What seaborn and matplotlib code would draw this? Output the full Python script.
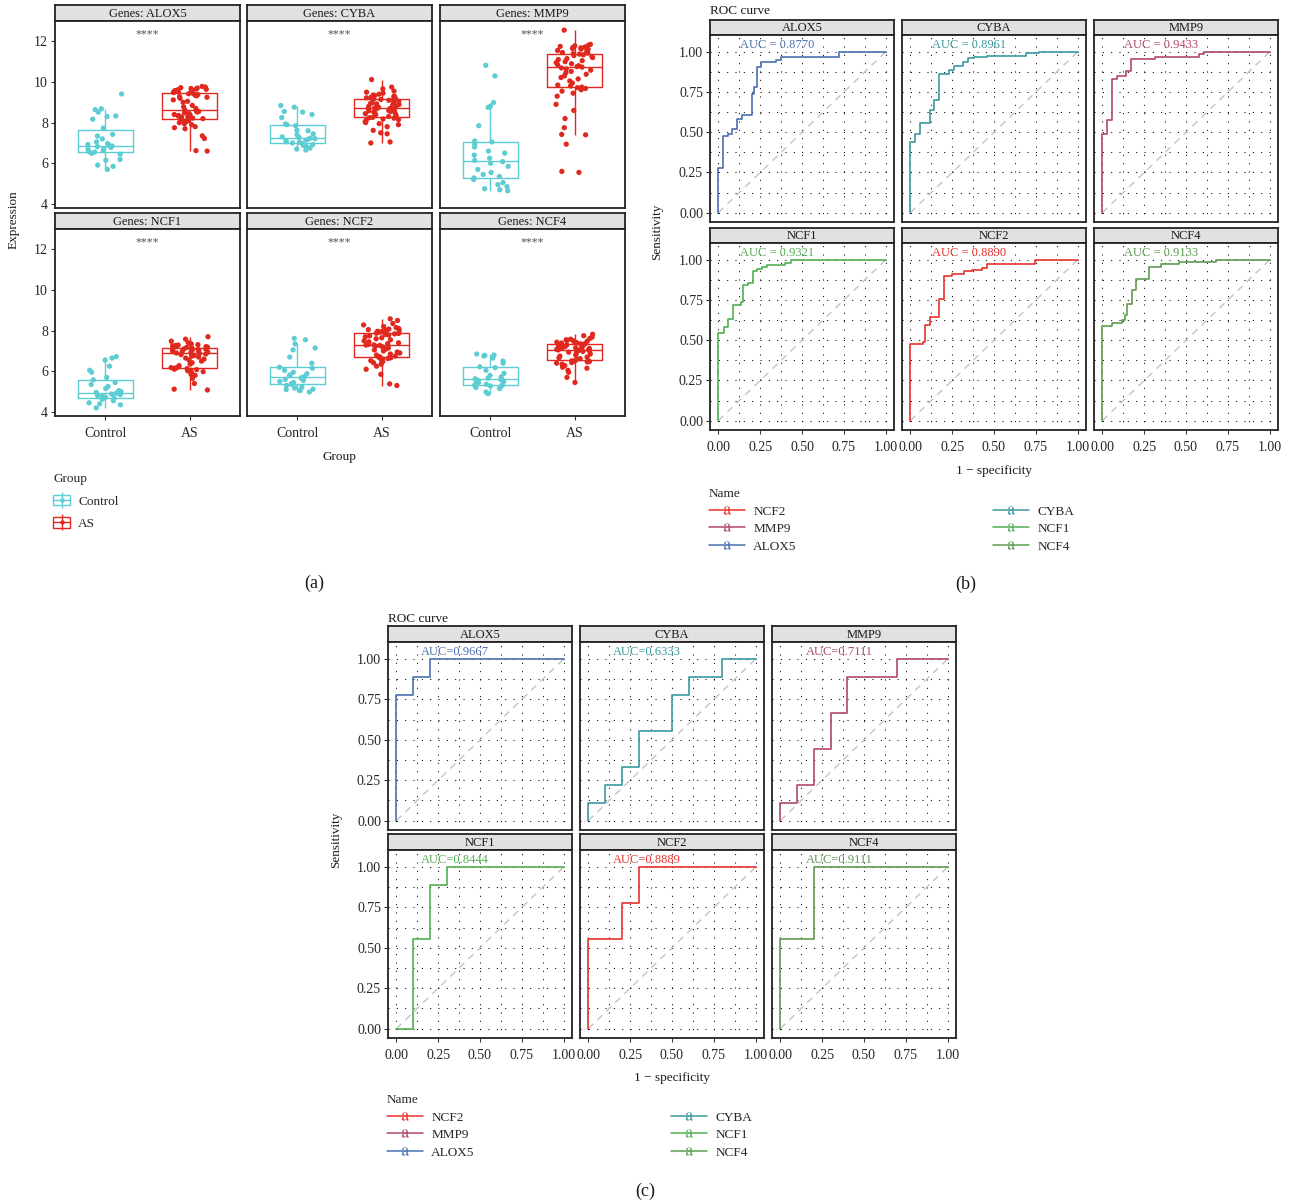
import numpy as np
import pandas as pd
import matplotlib
matplotlib.use("Agg")
import matplotlib.pyplot as plt
import seaborn as sns
from matplotlib.lines import Line2D
from matplotlib.patches import Patch
from matplotlib.legend_handler import HandlerTuple

# ------------------------------------------------------------------ data
genes = ["ALOX5", "CYBA", "MMP9", "NCF1", "NCF2", "NCF4"]
groups = ["Control", "AS"]

alox5_control = [5.70, 5.85, 5.91, 6.15, 6.19, 6.45, 6.49, 6.55, 6.58, 6.62, 6.68, 6.72, 6.78, 6.82, 6.85,
                 6.88, 6.92, 6.97, 7.05, 7.20, 7.34, 7.42, 7.73, 8.17, 8.30, 8.33, 8.52, 8.64, 8.68, 9.41]
alox5_as = [6.60, 6.62, 7.22, 7.35, 7.70, 7.75, 7.80, 7.90, 7.95, 8.00, 8.05, 8.10, 8.13, 8.15, 8.18,
            8.20, 8.22, 8.25, 8.28, 8.30, 8.32, 8.35, 8.38, 8.40, 8.45, 8.48, 8.52, 8.55, 8.57, 8.59,
            8.62, 8.70, 8.78, 8.85, 9.00, 9.05, 9.12, 9.20, 9.25, 9.28, 9.32, 9.35, 9.38, 9.42, 9.44,
            9.48, 9.50, 9.52, 9.55, 9.57, 9.58, 9.60, 9.62, 9.64, 9.65, 9.68, 9.70, 9.72, 9.75, 9.78]
cyba_control = [6.65, 6.70, 6.75, 6.82, 6.88, 6.92, 6.97, 7.00, 7.03, 7.06, 7.10, 7.14, 7.18, 7.21, 7.24,
                7.27, 7.30, 7.40, 7.45, 7.60, 7.62, 7.85, 7.90, 7.93, 8.25, 8.40, 8.52, 8.55, 8.76, 8.84]
cyba_as = [7.00, 7.05, 7.45, 7.50, 7.62, 7.80, 7.90, 7.95, 8.00, 8.05, 8.10, 8.15, 8.18, 8.22, 8.24,
           8.26, 8.30, 8.35, 8.40, 8.44, 8.48, 8.52, 8.55, 8.58, 8.60, 8.63, 8.65, 8.67, 8.69, 8.70,
           8.72, 8.75, 8.78, 8.80, 8.83, 8.86, 8.89, 8.92, 8.95, 8.98, 9.00, 9.05, 9.10, 9.14, 9.16,
           9.18, 9.20, 9.22, 9.25, 9.28, 9.30, 9.33, 9.36, 9.40, 9.45, 9.50, 9.55, 9.66, 9.75, 10.12]
mmp9_control = [4.65, 4.70, 4.75, 4.85, 4.95, 5.05, 5.20, 5.28, 5.35, 5.45, 5.55, 5.70, 5.85, 6.00, 6.08,
                6.14, 6.25, 6.40, 6.50, 6.60, 6.80, 6.95, 7.05, 7.10, 7.85, 8.75, 8.80, 8.99, 10.30, 10.82]
mmp9_as = [5.55, 5.60, 6.94, 7.40, 7.42, 7.75, 8.20, 8.60, 8.90, 9.30, 9.45, 9.55, 9.62, 9.68, 9.72,
           9.75, 9.80, 9.85, 9.95, 10.05, 10.15, 10.22, 10.30, 10.38, 10.45, 10.52, 10.58, 10.64, 10.69, 10.73,
           10.76, 10.80, 10.85, 10.90, 10.95, 11.00, 11.05, 11.10, 11.15, 11.20, 11.25, 11.30, 11.34, 11.37, 11.39,
           11.42, 11.45, 11.50, 11.55, 11.60, 11.62, 11.65, 11.68, 11.70, 11.72, 11.75, 11.78, 11.80, 11.85, 12.55]
ncf1_control = [4.20, 4.35, 4.40, 4.45, 4.55, 4.62, 4.68, 4.70, 4.73, 4.76, 4.80, 4.85, 4.88, 4.92, 4.94,
                4.96, 5.00, 5.05, 5.15, 5.25, 5.35, 5.45, 5.58, 5.70, 5.95, 6.05, 6.25, 6.55, 6.65, 6.72]
ncf1_as = [5.08, 5.12, 5.40, 5.65, 5.80, 5.85, 5.92, 5.98, 6.02, 6.05, 6.08, 6.10, 6.13, 6.15, 6.16,
           6.18, 6.22, 6.28, 6.35, 6.42, 6.50, 6.55, 6.60, 6.65, 6.70, 6.74, 6.78, 6.82, 6.85, 6.88,
           6.90, 6.92, 6.94, 6.96, 6.98, 7.00, 7.02, 7.04, 7.05, 7.07, 7.08, 7.09, 7.10, 7.11, 7.12,
           7.15, 7.17, 7.19, 7.21, 7.23, 7.25, 7.27, 7.29, 7.31, 7.33, 7.36, 7.40, 7.48, 7.58, 7.70]
ncf2_control = [4.98, 5.05, 5.10, 5.12, 5.18, 5.22, 5.30, 5.36, 5.40, 5.45, 5.50, 5.55, 5.60, 5.65, 5.70,
                5.74, 5.78, 5.82, 5.88, 5.95, 6.05, 6.15, 6.20, 6.40, 6.70, 7.05, 7.15, 7.35, 7.55, 7.62]
ncf2_as = [5.30, 5.38, 5.85, 6.10, 6.25, 6.35, 6.42, 6.48, 6.52, 6.56, 6.60, 6.63, 6.66, 6.68, 6.69,
           6.71, 6.75, 6.80, 6.85, 6.90, 6.95, 7.00, 7.05, 7.10, 7.15, 7.20, 7.24, 7.27, 7.29, 7.30,
           7.32, 7.36, 7.40, 7.45, 7.50, 7.55, 7.60, 7.65, 7.70, 7.74, 7.78, 7.81, 7.84, 7.86, 7.87,
           7.90, 7.92, 7.95, 7.97, 8.00, 8.02, 8.05, 8.08, 8.10, 8.15, 8.20, 8.28, 8.35, 8.50, 8.58]
ncf4_control = [4.90, 4.98, 5.15, 5.20, 5.25, 5.28, 5.31, 5.33, 5.36, 5.40, 5.45, 5.50, 5.55, 5.58, 5.61,
                5.63, 5.66, 5.72, 5.80, 5.90, 6.05, 6.18, 6.22, 6.40, 6.50, 6.65, 6.75, 6.78, 6.80, 6.85]
ncf4_as = [5.45, 5.70, 5.95, 6.05, 6.15, 6.20, 6.28, 6.35, 6.40, 6.43, 6.46, 6.48, 6.50, 6.51, 6.52,
           6.54, 6.58, 6.62, 6.66, 6.70, 6.75, 6.80, 6.85, 6.90, 6.94, 6.98, 7.01, 7.03, 7.05, 7.06,
           7.08, 7.10, 7.12, 7.14, 7.16, 7.18, 7.20, 7.22, 7.24, 7.26, 7.28, 7.30, 7.31, 7.32, 7.33,
           7.35, 7.37, 7.39, 7.41, 7.43, 7.45, 7.48, 7.50, 7.52, 7.55, 7.58, 7.62, 7.68, 7.75, 7.82]

# ROC curves, panel (b) (training set): step vertices (1 - specificity, sensitivity)
b_alox5_fpr = [0.0, 0.0, 0.026, 0.026, 0.055, 0.084, 0.113, 0.142, 0.202, 0.215, 0.228, 0.255, 0.347, 0.375, 0.720, 1.0]
b_alox5_tpr = [0.0, 0.275, 0.290, 0.476, 0.490, 0.520, 0.580, 0.607, 0.740, 0.780, 0.907, 0.938, 0.948, 0.969, 1.0, 1.0]
b_cyba_fpr = [0.0, 0.0, 0.030, 0.060, 0.115, 0.143, 0.173, 0.230, 0.260, 0.315, 0.345, 0.380, 0.460, 0.690, 0.770, 1.0]
b_cyba_tpr = [0.0, 0.440, 0.490, 0.560, 0.640, 0.700, 0.860, 0.890, 0.910, 0.940, 0.960, 0.970, 0.975, 0.990, 1.0, 1.0]
b_mmp9_fpr = [0.0, 0.0, 0.030, 0.060, 0.090, 0.144, 0.174, 0.317, 0.577, 0.607, 1.0]
b_mmp9_tpr = [0.0, 0.487, 0.575, 0.834, 0.853, 0.880, 0.955, 0.969, 0.986, 1.0, 1.0]
b_ncf1_fpr = [0.0, 0.0, 0.031, 0.060, 0.090, 0.138, 0.150, 0.177, 0.206, 0.230, 0.259, 0.290, 0.400, 0.436, 1.0]
b_ncf1_tpr = [0.0, 0.548, 0.580, 0.630, 0.720, 0.735, 0.843, 0.855, 0.930, 0.946, 0.957, 0.970, 0.980, 1.0, 1.0]
b_ncf2_fpr = [0.0, 0.0, 0.073, 0.090, 0.120, 0.170, 0.200, 0.248, 0.320, 0.370, 0.430, 0.460, 0.745, 1.0]
b_ncf2_tpr = [0.0, 0.477, 0.490, 0.595, 0.647, 0.754, 0.900, 0.915, 0.930, 0.940, 0.950, 0.977, 1.0, 1.0]
b_ncf4_fpr = [0.0, 0.0, 0.060, 0.117, 0.133, 0.146, 0.177, 0.200, 0.280, 0.350, 0.460, 0.680, 1.0]
b_ncf4_tpr = [0.0, 0.589, 0.605, 0.626, 0.657, 0.725, 0.810, 0.884, 0.957, 0.977, 0.985, 1.0, 1.0]
b_auc = ["AUC = 0.8770", "AUC = 0.8961", "AUC = 0.9433", "AUC = 0.9321", "AUC = 0.8890", "AUC = 0.9133"]

# ROC curves, panel (c) (validation set)
c_alox5_fpr = [0.0, 0.0, 0.1, 0.2, 1.0]
c_alox5_tpr = [0.0, 0.778, 0.889, 1.0, 1.0]
c_cyba_fpr = [0.0, 0.0, 0.1, 0.2, 0.3, 0.5, 0.6, 0.8, 1.0]
c_cyba_tpr = [0.0, 0.111, 0.222, 0.333, 0.556, 0.778, 0.889, 1.0, 1.0]
c_mmp9_fpr = [0.0, 0.0, 0.1, 0.2, 0.3, 0.4, 0.7, 1.0]
c_mmp9_tpr = [0.0, 0.111, 0.222, 0.444, 0.667, 0.889, 1.0, 1.0]
c_ncf1_fpr = [0.0, 0.1, 0.2, 0.3, 1.0]
c_ncf1_tpr = [0.0, 0.556, 0.889, 1.0, 1.0]
c_ncf2_fpr = [0.0, 0.0, 0.2, 0.3, 1.0]
c_ncf2_tpr = [0.0, 0.556, 0.778, 1.0, 1.0]
c_ncf4_fpr = [0.0, 0.0, 0.2, 1.0]
c_ncf4_tpr = [0.0, 0.556, 1.0, 1.0]
c_auc = ["AUC=0.9667", "AUC=0.6333", "AUC=0.7111", "AUC=0.8444", "AUC=0.8889", "AUC=0.9111"]

diag = [0.0, 1.0]
roc_ticks = [0.0, 0.25, 0.5, 0.75, 1.0]
roc_ticklabels = ["0.00", "0.25", "0.50", "0.75", "1.00"]
expr_ticks = [4, 6, 8, 10, 12]
legend_order = ["NCF2", "MMP9", "ALOX5", "CYBA", "NCF1", "NCF4"]

# ------------------------------------------------------------------ style
group_colors = {"Control": "#5ccdd3", "AS": "#e1281e"}
gene_colors = {"ALOX5": "#4a70b3", "CYBA": "#3b999f", "MMP9": "#b2466c",
               "NCF1": "#52b052", "NCF2": "#e8322b", "NCF4": "#5c9c50"}

sns.set_theme(style="ticks")
plt.rcParams["font.family"] = ["Liberation Serif", "DejaVu Serif"]
plt.rcParams["mathtext.fontset"] = "stix"
TXT = "#1a1a1a"
FS = 9.5       # titles / legend
FS_TICK = 10   # tick labels
FS_STRIP = 9

W, H = 1289, 1204
fig = plt.figure(figsize=(W / 100, H / 100), dpi=100)


def px_axes(x0, y0, x1, y1):
    return fig.add_axes([x0 / W, 1 - y1 / H, (x1 - x0) / W, (y1 - y0) / H])


def style_frame(ax, xpad=2):
    for sp in ax.spines.values():
        sp.set_visible(True)
        sp.set_color("#222222")
        sp.set_linewidth(1.3)
    ax.tick_params(which="major", direction="out", length=3, width=0.8, color="#333333",
                   labelsize=FS_TICK, labelcolor="#262626")
    ax.tick_params(axis="y", pad=2)
    ax.tick_params(axis="x", pad=xpad)


def strip(x0, y0, x1, y1, label):
    s = px_axes(x0, y0, x1, y1)
    s.set_facecolor("#e1e1e1")
    s.set_xticks([])
    s.set_yticks([])
    for sp in s.spines.values():
        sp.set_visible(True)
        sp.set_color("#222222")
        sp.set_linewidth(1.3)
    s.text(0.5, 0.45, label, ha="center", va="center", fontsize=FS_STRIP, color=TXT, transform=s.transAxes)


def ftext(x, y, s, **kw):
    kw.setdefault("fontsize", FS)
    kw.setdefault("color", TXT)
    kw.setdefault("ha", "center")
    kw.setdefault("va", "center")
    fig.text(x / W, 1 - y / H, s, **kw)


# ------------------------------------------------------------------ panel (a)
expr_lists = {"ALOX5": (alox5_control, alox5_as), "CYBA": (cyba_control, cyba_as),
              "MMP9": (mmp9_control, mmp9_as), "NCF1": (ncf1_control, ncf1_as),
              "NCF2": (ncf2_control, ncf2_as), "NCF4": (ncf4_control, ncf4_as)}
rows = []
for g in genes:
    for grp, vals in zip(groups, expr_lists[g]):
        for v in vals:
            rows.append({"Genes": g, "Group": grp, "Expression": v})
df = pd.DataFrame(rows)

np.random.seed(3)
a_cols = [(55, 240), (247, 432), (440, 625)]
a_rows = [(5, 21, 208), (213, 229, 416)]
for i, g in enumerate(genes):
    r, c = divmod(i, 3)
    x0, x1 = a_cols[c]
    st, pt, pb = a_rows[r]
    strip(x0, st, x1, pt, f"Genes: {g}")
    ax = px_axes(x0, pt, x1, pb)
    sub = df[df["Genes"] == g]
    sns.boxplot(data=sub, x="Group", y="Expression", hue="Group", order=groups, hue_order=groups,
                palette=group_colors, fill=False, width=0.65, linewidth=1.0, showfliers=False,
                showcaps=False, legend=False, ax=ax)
    sns.stripplot(data=sub, x="Group", y="Expression", hue="Group", order=groups, hue_order=groups,
                  palette=group_colors, jitter=0.22, size=3.8, linewidth=0, legend=False, ax=ax, zorder=3)
    ax.set_xlim(-0.6, 1.6)
    ax.set_ylim(3.8, 13.0)
    ax.set_yticks(expr_ticks)
    ax.set_xlabel("")
    ax.set_ylabel("")
    style_frame(ax, xpad=5)
    ax.text(0.5, 12.35, "****", ha="center", va="center", fontsize=8.5, color="#555555")
    if r == 0:
        ax.tick_params(axis="x", length=0, labelbottom=False)
    if c > 0:
        ax.tick_params(axis="y", length=0, labelleft=False)

ftext(14, 220, "Expression", rotation=90)
ftext(339, 457, "Group")
ftext(314, 583, "(a)", fontsize=13)

a_handles = []
for grp in groups:
    col = group_colors[grp]
    a_handles.append((Patch(facecolor="white", edgecolor=col, linewidth=1.0),
                      Line2D([], [], color=col, lw=0, marker="|", markersize=12, markeredgewidth=1.0),
                      Line2D([], [], color=col, lw=1.0, marker="o", markersize=3.2, markeredgewidth=0)))
fig.legend(a_handles, groups, title="Group", loc="upper left", bbox_to_anchor=(53 / W, 1 - 473 / H),
           frameon=False, borderpad=0, borderaxespad=0, fontsize=FS, title_fontsize=FS,
           alignment="left", handlelength=1.3, handleheight=0.8, handletextpad=0.6, labelspacing=0.75,
           handler_map={tuple: HandlerTuple(ndivide=1)})


# ------------------------------------------------------------------ ROC panels
def roc_block(cols, rows_, curves, aucs):
    for i, g in enumerate(genes):
        r, c = divmod(i, 3)
        x0, x1 = cols[c]
        st, pt, pb = rows_[r]
        strip(x0, st, x1, pt, g)
        ax = px_axes(x0, pt, x1, pb)
        fpr, tpr = curves[g]
        col = gene_colors[g]
        ax.set_xlim(-0.05, 1.05)
        ax.set_ylim(-0.058, 1.105)
        ax.set_xticks(roc_ticks)
        ax.set_yticks(roc_ticks)
        ax.set_xticklabels(roc_ticklabels)
        ax.set_yticklabels(roc_ticklabels)
        ax.set_xticks(np.arange(0.125, 1.0, 0.25), minor=True)
        ax.set_yticks(np.arange(0.125, 1.0, 0.25), minor=True)
        ax.tick_params(which="minor", length=0)
        ax.grid(True, which="both", color="black", linestyle=(0, (1, 7)), linewidth=0.75)
        ax.set_axisbelow(True)
        sns.lineplot(x=diag, y=diag, color="#c4c4c4", linestyle=(0, (5, 4)), linewidth=1.0, ax=ax)
        sns.lineplot(x=fpr, y=tpr, sort=False, estimator=None, drawstyle="steps-post",
                     color=col, linewidth=1.2, ax=ax)
        ax.text(0.35, 1.045, aucs[i], ha="center", va="center", fontsize=9, color=col)
        ax.set_xlabel("")
        ax.set_ylabel("")
        style_frame(ax, xpad=5)
        if r == 0:
            ax.tick_params(axis="x", length=0, labelbottom=False)
        if c > 0:
            ax.tick_params(axis="y", length=0, labelleft=False)


def roc_legend(x, y):
    handles = []
    for g in legend_order:
        col = gene_colors[g]
        handles.append((Line2D([], [], color=col, lw=1.1),
                        Line2D([], [], color=col, lw=0, marker=r"$\mathrm{a}$", markersize=6,
                               markeredgewidth=0)))
    fig.legend(handles, legend_order, title="Name", loc="upper left", bbox_to_anchor=(x / W, 1 - y / H),
               ncol=2, frameon=False, borderpad=0, borderaxespad=0, fontsize=FS, title_fontsize=FS,
               alignment="left", handlelength=2.7, handletextpad=0.65, labelspacing=0.4,
               columnspacing=14.9, handler_map={tuple: HandlerTuple(ndivide=1)})


b_curves = {"ALOX5": (b_alox5_fpr, b_alox5_tpr), "CYBA": (b_cyba_fpr, b_cyba_tpr),
            "MMP9": (b_mmp9_fpr, b_mmp9_tpr), "NCF1": (b_ncf1_fpr, b_ncf1_tpr),
            "NCF2": (b_ncf2_fpr, b_ncf2_tpr), "NCF4": (b_ncf4_fpr, b_ncf4_tpr)}
roc_block([(710, 894), (902, 1086), (1094, 1278)], [(20, 35, 222), (228, 243, 430)], b_curves, b_auc)
ftext(710, 11, "ROC curve", ha="left")
ftext(657, 232, "Sensitivity", rotation=90)
ftext(994, 471, "1 \u2212 specificity")
ftext(966, 584, "(b)", fontsize=13)
roc_legend(709, 488)

c_curves = {"ALOX5": (c_alox5_fpr, c_alox5_tpr), "CYBA": (c_cyba_fpr, c_cyba_tpr),
            "MMP9": (c_mmp9_fpr, c_mmp9_tpr), "NCF1": (c_ncf1_fpr, c_ncf1_tpr),
            "NCF2": (c_ncf2_fpr, c_ncf2_tpr), "NCF4": (c_ncf4_fpr, c_ncf4_tpr)}
roc_block([(388, 572), (580, 764), (772, 956)], [(626, 642, 830), (834, 850, 1038)], c_curves, c_auc)
ftext(388, 619, "ROC curve", ha="left")
ftext(336, 840, "Sensitivity", rotation=90)
ftext(672, 1078, "1 \u2212 specificity")
ftext(645, 1191, "(c)", fontsize=13)
roc_legend(387, 1094)

fig.savefig("out.png", dpi=100)
